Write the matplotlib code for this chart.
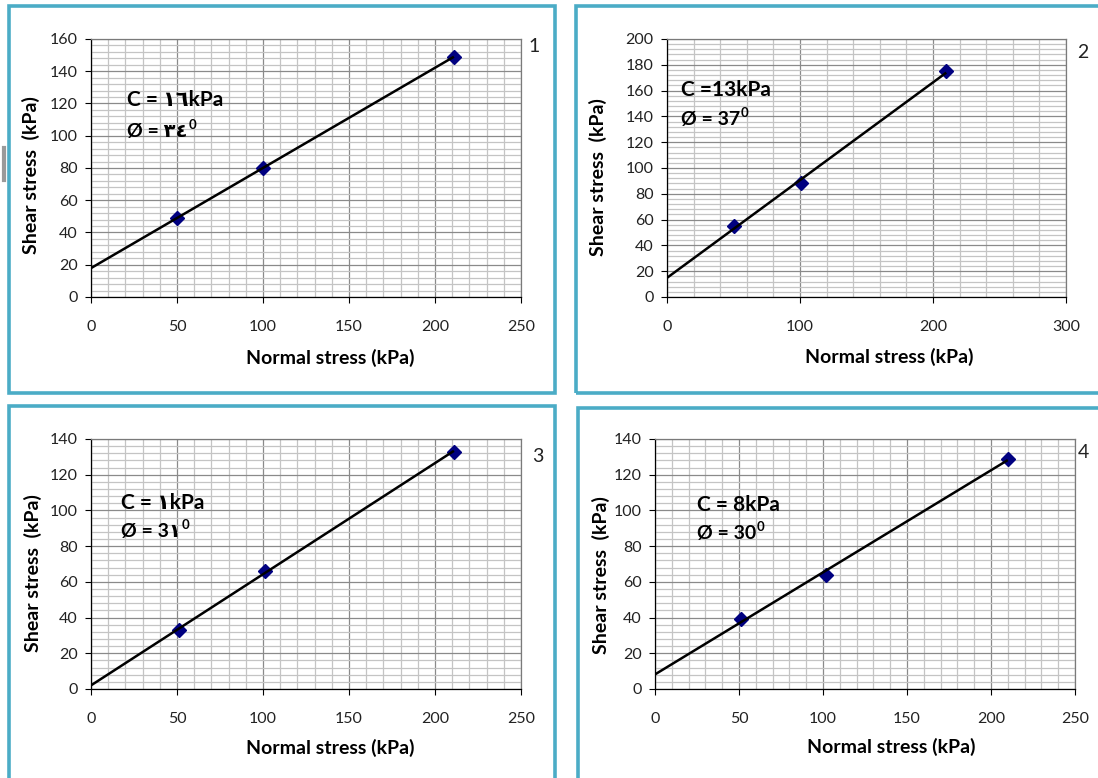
import numpy as np
import matplotlib
matplotlib.use("Agg")
import matplotlib.pyplot as plt
from matplotlib.patches import Rectangle
from matplotlib.ticker import MultipleLocator

# ---- test data: normal stress vs. shear stress at failure (kPa) ----
normal_1 = [50, 100, 211]
shear_1 = [49, 80, 149]

normal_2 = [50, 101, 210]
shear_2 = [55, 88, 175]

normal_3 = [51, 101, 211]
shear_3 = [33, 66, 133]

normal_4 = [51, 102, 210]
shear_4 = [39, 64, 129]

cohesion_labels = ["C = ١٦kPa", "C =13kPa", "C = ١kPa", "C = 8kPa"]
friction_labels = ["Ø = ٣٤", "Ø = 37", "Ø = 3١", "Ø = 30"]
degree_mark = "0"
panel_names = ["1", "2", "3", "4"]

x_limits = [250, 300, 250, 250]
y_limits = [160, 200, 140, 140]
x_major = [50, 100, 50, 50]
x_minor = [10, 20, 10, 10]
y_major = [20, 20, 20, 20]
y_minor = [4, 4, 4, 4]

W, H = 1098, 778
fig = plt.figure(figsize=(W / 100, H / 100), dpi=100)
fig.patch.set_facecolor("white")

FONT = ["Lato", "DejaVu Sans"]
BORDER = "#4BACC6"


def fx(px):
    return px / W


def fy(py):
    return 1 - py / H


def px_rect(left, top, right, bottom):
    return [left / W, 1 - bottom / H, (right - left) / W, (bottom - top) / H]


# chart frames (pixel boxes)
frames = [
    (9, 6, 555, 393),
    (576, 6, 1104, 393),
    (9, 406, 555, 790),
    (578, 408, 1104, 790),
]
for (l, t, r, b) in frames:
    fig.patches.append(Rectangle((fx(l), fy(b)), fx(r - l), (b - t) / H,
                                 transform=fig.transFigure, fill=False,
                                 edgecolor=BORDER, linewidth=2.6, zorder=0))

# plot areas (pixel boxes)
plot_boxes = [
    (91, 39, 521, 297),
    (667, 39, 1066, 297),
    (91, 439, 521, 689),
    (655, 439, 1075, 689),
]

series = [
    (normal_1, shear_1),
    (normal_2, shear_2),
    (normal_3, shear_3),
    (normal_4, shear_4),
]

# text anchor positions (pixels)
annot_pos = [(127, 100, 131), (681, 90, 119), (121, 503, 531), (697, 505, 533)]
name_pos = [(528, 46), (1077, 52), (532, 456), (1078, 453)]
xlabel_pos = [(330, 358), (889, 357), (330, 748), (891, 747)]
ylabel_pos = [(31, 175), (598, 177), (33, 573), (601, 575)]

for i in range(4):
    ax = fig.add_axes(px_rect(*plot_boxes[i]))
    xs, ys = series[i]
    xs = np.asarray(xs, dtype=float)
    ys = np.asarray(ys, dtype=float)

    # linear failure envelope fitted through the test points
    slope, intercept = np.polyfit(xs, ys, 1)
    xl = np.array([0.0, xs.max()])
    ax.plot(xs, ys, linestyle="none", marker="D", markersize=7,
            color="#000080", markeredgecolor="#000080", zorder=3)
    ax.plot(xl, intercept + slope * xl, color="black", linewidth=1.8,
            zorder=4, solid_capstyle="butt")

    ax.set_xlim(0, x_limits[i])
    ax.set_ylim(0, y_limits[i])
    ax.xaxis.set_major_locator(MultipleLocator(x_major[i]))
    ax.xaxis.set_minor_locator(MultipleLocator(x_minor[i]))
    ax.yaxis.set_major_locator(MultipleLocator(y_major[i]))
    ax.yaxis.set_minor_locator(MultipleLocator(y_minor[i]))

    ax.set_axisbelow(True)
    ax.grid(which="minor", color="#c4c4c4", linewidth=0.9)
    ax.grid(which="major", color="#8a8a8a", linewidth=0.9)

    ax.tick_params(which="minor", length=0)
    ax.tick_params(which="major", direction="out", length=4.5, width=0.8,
                   color="black", labelsize=11.5, labelcolor="#222222")
    ax.tick_params(axis="x", pad=12)
    ax.tick_params(axis="y", pad=5)
    for lab in ax.get_xticklabels() + ax.get_yticklabels():
        lab.set_family(FONT)

    for side in ("left", "bottom"):
        ax.spines[side].set_color("black")
        ax.spines[side].set_linewidth(0.9)
    for side in ("top", "right"):
        ax.spines[side].set_color("#7a7a7a")
        ax.spines[side].set_linewidth(0.9)

    cx, cy1, cy2 = annot_pos[i]
    fig.text(fx(cx), fy(cy1), cohesion_labels[i], family=FONT,
             fontsize=15, fontweight="bold", ha="left", va="center")
    phi = fig.text(fx(cx), fy(cy2), friction_labels[i], family=FONT,
                   fontsize=14, fontweight="bold", ha="left", va="center")
    # raised degree mark right after the friction angle
    fig.add_artist(matplotlib.text.Annotation(
        degree_mark, xy=(1.0, 0.5), xycoords=phi,
        xytext=(0.5, 0), textcoords="offset points",
        ha="left", va="bottom", family=FONT, fontsize=9.5, fontweight="bold"))

    nx, ny = name_pos[i]
    fig.text(fx(nx), fy(ny), panel_names[i], family=FONT,
             fontsize=14, ha="left", va="center", color="#222222")

    lx, ly = xlabel_pos[i]
    fig.text(fx(lx), fy(ly), "Normal stress (kPa)", family=FONT,
             fontsize=14, fontweight="bold", ha="center", va="center")
    yx, yy = ylabel_pos[i]
    fig.text(fx(yx), fy(yy), "Shear stress  (kPa)", family=FONT,
             fontsize=14, fontweight="bold", ha="center", va="center",
             rotation=90)

# small grey edge mark at the left margin
fig.add_artist(plt.Line2D([fx(4), fx(4)], [fy(148), fy(180)],
                          transform=fig.transFigure, color="#9a9a9a",
                          linewidth=3))

fig.savefig("out.png", dpi=100)
